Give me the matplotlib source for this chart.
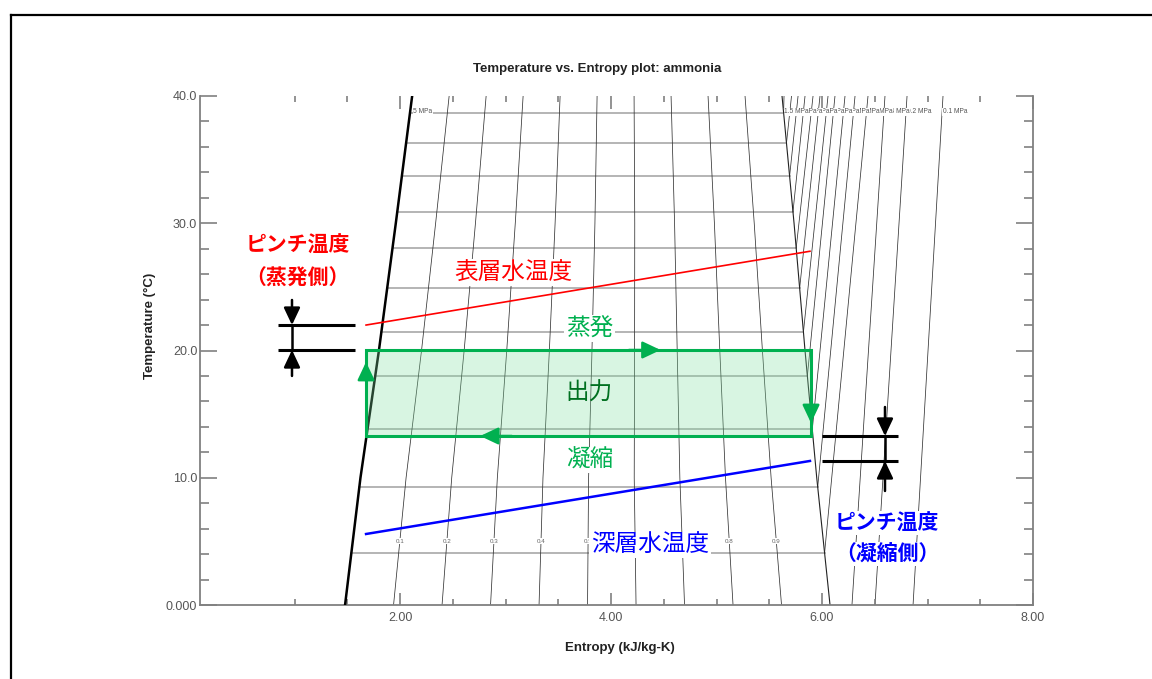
import numpy as np
import matplotlib
matplotlib.use("Agg")
import matplotlib.pyplot as plt
from matplotlib.lines import Line2D
from matplotlib.patches import Polygon

# ---------------- data ----------------
# saturation lines of ammonia (T in degC, s in kJ/kg-K)
sat_T = [0, 10, 20, 30, 40]
sat_liq_s = [1.479, 1.625, 1.800, 1.960, 2.115]
sat_vap_s = [6.076, 5.950, 5.839, 5.735, 5.621]

# two-phase isobars (horizontal lines): pressure [MPa] and saturation temperature
tp_press = [0.5, 0.6, 0.7, 0.8, 0.9, 1.0, 1.1, 1.2, 1.3, 1.4, 1.5]
tp_Tsat = [4.09, 9.27, 13.8, 18.0, 21.45, 24.9, 28.05, 30.9, 33.7, 36.3, 38.7]

# superheated isobars: entropy where they reach 40 degC
sh_press = [1.5, 1.4, 1.3, 1.2, 1.1, 1.0, 0.9, 0.8, 0.7, 0.6, 0.5, 0.4, 0.2, 0.1]
sh_s_top = [5.640, 5.711, 5.773, 5.839, 5.915, 5.981, 6.057, 6.123, 6.218,
            6.313, 6.436, 6.597, 6.806, 7.147]
# isobars that are fully superheated: entropy at 0 degC
sh_low_press = [0.4, 0.2, 0.1]
sh_low_s_bot = [6.284, 6.502, 6.863]

# vapour quality lines
qualities = [0.1, 0.2, 0.3, 0.4, 0.5, 0.6, 0.7, 0.8, 0.9]
quality_label_T = 5.0

# OTEC cycle rectangle (s, T)
cycle_s = [1.678, 5.896]
cycle_T = [13.28, 20.04]

# water temperature lines
surface_s = [1.678, 5.886]
surface_T = [22.0, 27.8]
deep_s = [1.678, 5.886]
deep_T = [5.58, 11.32]

# pinch markers
pinch_evap_s = [0.844, 1.573]
pinch_evap_x = 0.976
pinch_evap_T = [22.0, 20.04]
pinch_evap_tails = [23.97, 18.0]
pinch_cond_s = [6.00, 6.72]
pinch_cond_x = 6.597
pinch_cond_T = [13.28, 11.32]
pinch_cond_tails = [15.56, 8.96]

# arrows on the cycle (tip positions)
arrow_top_s = 4.47
arrow_bot_s = 2.76
arrow_left_T = 19.1
arrow_right_T = 14.3

x_major = [2.0, 4.0, 6.0, 8.0]
x_major_labels = ["2.00", "4.00", "6.00", "8.00"]
x_minor = [1.0, 1.5, 2.5, 3.0, 3.5, 4.5, 5.0, 5.5, 6.5, 7.0, 7.5]
y_major = [0, 10, 20, 30, 40]
y_major_labels = ["0.000", "10.0", "20.0", "30.0", "40.0"]
y_minor = [2, 4, 6, 8, 12, 14, 16, 18, 22, 24, 26, 28, 32, 34, 36, 38]

# ---------------- figure ----------------
W, H = 1152, 679
fig = plt.figure(figsize=(W / 100, H / 100), dpi=100)
ax = fig.add_axes([200 / W, 1 - 605 / H, (1033 - 200) / W, (605 - 96) / H])
ax.set_xlim(0.104, 8.0)
ax.set_ylim(0, 40)

JP = ["Noto Sans CJK JP", "DejaVu Sans"]
LAT = ["Liberation Sans", "DejaVu Sans"]

def sf(T):
    return np.interp(T, sat_T, sat_liq_s)

def sg(T):
    return np.interp(T, sat_T, sat_vap_s)

Tgrid = np.array(sat_T, dtype=float)

# two-phase isobars
for T in tp_Tsat:
    ax.plot([sf(T), sg(T)], [T, T], color="#a0a0a0", lw=1.1, zorder=1)

# quality lines
for q in qualities:
    s_line = sf(Tgrid) + q * (sg(Tgrid) - sf(Tgrid))
    ax.plot(s_line, Tgrid, color="#333333", lw=0.55, zorder=1)
    sl = sf(quality_label_T) + q * (sg(quality_label_T) - sf(quality_label_T))
    ax.text(sl, quality_label_T, f"{q:.1f}", fontsize=4.5, color="#666666",
            ha="center", va="center", family=LAT,
            bbox=dict(facecolor="white", edgecolor="none", pad=0.3), zorder=2)

# superheated isobars
press_to_Tsat = dict(zip(tp_press, tp_Tsat))
low_bot = dict(zip(sh_low_press, sh_low_s_bot))
for p, stop in zip(sh_press, sh_s_top):
    if p in low_bot:
        ax.plot([low_bot[p], stop], [0, 40], color="#333333", lw=0.55, zorder=1)
    else:
        Ts = press_to_Tsat[p]
        ax.plot([sg(Ts), stop], [Ts, 40], color="#333333", lw=0.55, zorder=1)

# isobar labels at top (drawn right to left so they overlap like the original)
for p, stop in reversed(list(zip(sh_press, sh_s_top))):
    ax.text(stop, 38.75, f"{p:.1f} MPa", fontsize=4.8, color="#555555",
            ha="left", va="center", family=LAT,
            bbox=dict(facecolor="white", edgecolor="none", pad=0.4), zorder=2)

# saturation lines
ax.plot(sg(Tgrid), Tgrid, color="#222222", lw=0.8, zorder=2)
ax.plot(sf(Tgrid), Tgrid, color="black", lw=1.8, zorder=3)
ax.text(sf(38.75) + 0.03, 38.75, "5 MPa", fontsize=4.8, color="#555555",
        ha="left", va="center", family=LAT,
        bbox=dict(facecolor="white", edgecolor="none", pad=0.4), zorder=2)

# cycle rectangle
green = "#00b050"
rect = Polygon([[cycle_s[0], cycle_T[0]], [cycle_s[1], cycle_T[0]],
                [cycle_s[1], cycle_T[1]], [cycle_s[0], cycle_T[1]]],
               closed=True, facecolor="#7fe0a0", alpha=0.3, edgecolor="none", zorder=4)
ax.add_patch(rect)
ax.plot([cycle_s[0], cycle_s[1], cycle_s[1], cycle_s[0], cycle_s[0]],
        [cycle_T[0], cycle_T[0], cycle_T[1], cycle_T[1], cycle_T[0]],
        color=green, lw=2.2, zorder=5, solid_joinstyle="miter")

def head(tip, tail, color, ms=20):
    ax.annotate("", xy=tip, xytext=tail,
                arrowprops=dict(arrowstyle="-|>,head_length=0.55,head_width=0.26",
                                color=color, lw=1.8, mutation_scale=ms,
                                shrinkA=0, shrinkB=0), zorder=6)

head((arrow_top_s, cycle_T[1]), (arrow_top_s - 0.3, cycle_T[1]), green)
head((arrow_bot_s, cycle_T[0]), (arrow_bot_s + 0.3, cycle_T[0]), green)
head((cycle_s[0], arrow_left_T), (cycle_s[0], arrow_left_T - 1.5), green)
head((cycle_s[1], arrow_right_T), (cycle_s[1], arrow_right_T + 1.5), green)

# water temperature lines
ax.plot(surface_s, surface_T, color="#ff0000", lw=1.2, zorder=5)
ax.plot(deep_s, deep_T, color="#0000ff", lw=1.8, zorder=5)

# pinch markers
for sx, xv, Ts, tails in [(pinch_evap_s, pinch_evap_x, pinch_evap_T, pinch_evap_tails),
                          (pinch_cond_s, pinch_cond_x, pinch_cond_T, pinch_cond_tails)]:
    for T in Ts:
        ax.plot(sx, [T, T], color="black", lw=2.2, zorder=6, solid_capstyle="butt")
    ax.plot([xv, xv], Ts, color="black", lw=1.8, zorder=6)
    head((xv, Ts[0]), (xv, tails[0]), "black", ms=19)
    head((xv, Ts[1]), (xv, tails[1]), "black", ms=19)

wb = dict(facecolor="white", edgecolor="none", boxstyle="square,pad=0.08")
ax.text(3.071, 26.1, "表層水温度", color="#ff0000", fontsize=17, family=JP,
        ha="center", va="center", bbox=wb, zorder=4)
ax.text(3.80, 21.7, "蒸発", color=green, fontsize=17, family=JP,
        ha="center", va="center", bbox=wb, zorder=4)
ax.text(3.79, 16.66, "出力", color="#007020", fontsize=17, family=JP,
        ha="center", va="center", zorder=6)
ax.text(3.80, 11.4, "凝縮", color=green, fontsize=17, family=JP,
        ha="center", va="center", bbox=wb, zorder=4)
ax.text(4.37, 4.72, "深層水温度", color="#0000ff", fontsize=17, family=JP,
        ha="center", va="center", bbox=wb, zorder=4)
ax.text(1.028, 28.3, "ピンチ温度", color="#ff0000", fontsize=15, family=JP,
        fontweight="bold", ha="center", va="center", zorder=6)
ax.text(1.028, 25.7, "（蒸発側）", color="#ff0000", fontsize=15, family=JP,
        fontweight="bold", ha="center", va="center", zorder=6)
ax.text(6.613, 6.44, "ピンチ温度", color="#0000ff", fontsize=15, family=JP,
        fontweight="bold", ha="center", va="center", bbox=wb, zorder=6)
ax.text(6.62, 4.0, "（凝縮側）", color="#0000ff", fontsize=15, family=JP,
        fontweight="bold", ha="center", va="center", bbox=wb, zorder=6)

# axes styling
for side in ["left", "bottom", "right"]:
    ax.spines[side].set_color("#808080")
    ax.spines[side].set_linewidth(1.3)
ax.spines["top"].set_visible(False)
ax.set_xticks(x_major)
ax.set_xticklabels(x_major_labels)
ax.set_xticks(x_minor, minor=True)
ax.set_yticks(y_major)
ax.set_yticklabels(y_major_labels)
ax.set_yticks(y_minor, minor=True)
ax.tick_params(axis="x", which="major", direction="in", length=9, width=1.2,
               color="#808080", top=True, labelsize=9, labelcolor="#555555", pad=5)
ax.tick_params(axis="x", which="minor", direction="in", length=4.5, width=1.2,
               color="#808080", top=True)
ax.tick_params(axis="y", which="major", direction="in", length=12, width=1.2,
               color="#808080", right=True, labelsize=9, labelcolor="#555555", pad=2)
ax.tick_params(axis="y", which="minor", direction="in", length=6.5, width=1.2,
               color="#808080", right=True)
for lab in ax.get_xticklabels() + ax.get_yticklabels():
    lab.set_family(LAT)

fig.text(597 / W, 1 - 69 / H, "Temperature vs. Entropy plot: ammonia", fontsize=9.5,
         fontweight="bold", ha="center", va="center", family=LAT, color="#222222")
fig.text(620 / W, 1 - 648 / H, "Entropy (kJ/kg-K)", fontsize=9.5,
         fontweight="bold", ha="center", va="center", family=LAT, color="#222222")
fig.text(150 / W, 1 - 326 / H, "Temperature (°C)", fontsize=9.5, rotation=90,
         fontweight="bold", ha="center", va="center", family=LAT, color="#222222")

# outer frame
fig.add_artist(Line2D([11 / W, 1], [1 - 15 / H, 1 - 15 / H], color="black", lw=1.6,
                      transform=fig.transFigure))
fig.add_artist(Line2D([11 / W, 11 / W], [0, 1 - 15 / H], color="black", lw=1.6,
                      transform=fig.transFigure))

fig.savefig("out.png", dpi=100)
